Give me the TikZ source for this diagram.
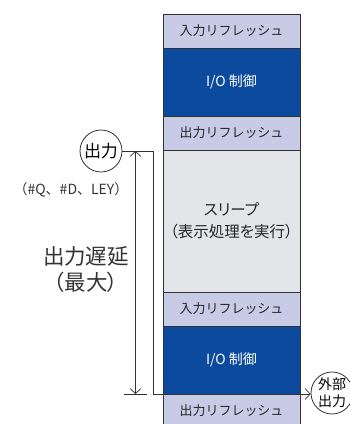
\documentclass[tikz,border=0pt]{standalone}
\usepackage{fontspec}
\setmainfont{Noto Sans CJK JP}
\newfontfamily\propjp{Noto Sans CJK JP}[RawFeature={+palt}]
\usetikzlibrary{arrows.meta}
\definecolor{lav}{RGB}{200,203,230}
\definecolor{dblue}{RGB}{12,74,158}
\definecolor{lgray}{RGB}{228,229,232}
\definecolor{ln}{RGB}{50,50,50}
\tikzset{
  blk/.style={draw=ln, line width=0.9pt, minimum width=137pt, inner sep=0pt, outer sep=0pt, anchor=center, font=\fontsize{13}{15}\selectfont, text=black!85},
  refr/.style={blk, fill=lav, minimum height=34pt},
  ioc/.style={blk, fill=dblue, minimum height=68pt, text=white, font=\fontsize{14}{15}\selectfont},
  circ/.style={draw=ln, circle, line width=0.8pt, minimum size=42pt, inner sep=0pt},
  wire/.style={draw=ln, line width=0.8pt},
  mytip/.tip={Straight Barb[length=5pt,width=11pt,line width=0.7pt]},
  lbl/.style={text=black!80}
}
\begin{document}
\begin{tikzpicture}[x=1pt,y=-1pt]
\useasboundingbox (0,0) rectangle (350,424);
\begin{scope}
\clip (0,0) rectangle (350,424);
\node[refr] (r1) at (231.5,31) {入力リフレッシュ};
\node[ioc] (io1) at (231.5,82) {I/O 制御};
\node[refr] (o1) at (231.5,133) {出力リフレッシュ};
\node[blk, fill=lgray, minimum height=142pt, align=center, font=\propjp\fontsize{15.5}{22}\selectfont] (sl) at (231.5,221) {スリープ\\（表示処理を実行）};
\node[refr] (r2) at (231.5,309) {入力リフレッシュ};
\node[ioc] (io2) at (231.5,360) {I/O 制御};
\node[refr] (o2) at (231.5,411) {出力リフレッシュ};

\node[circ, fill=white, font=\fontsize{17}{18}\selectfont] (out) at (101,151) {出力};
\node[circ, fill=white, align=center, font=\fontsize{14}{17}\selectfont] (ext) at (332,393) {外部\\出力};

\node[lbl, font=\fontsize{14}{15}\selectfont] (sig) at (71,190) {（\#Q、\#D、LEY）};
\node[lbl, align=center, font=\propjp\fontsize{21.5}{26}\selectfont] (dly) at (86,270) {出力遅延\\（最大）};

\coordinate (c1) at (153,151);
\coordinate (c2) at (153,394);
\coordinate (d1) at (135.5,151);
\coordinate (d2) at (135.5,394);
\coordinate (t1) at (124,394);
\coordinate (t2) at (147,394);

\draw[wire, -mytip] (out.east) -- (c1) -- (c2) -- (c2 -| ext.west);
\draw[wire, mytip-mytip] (d1) -- (d2);
\draw[wire] (t1) -- (t2);
\end{scope}
\end{tikzpicture}
\end{document}
